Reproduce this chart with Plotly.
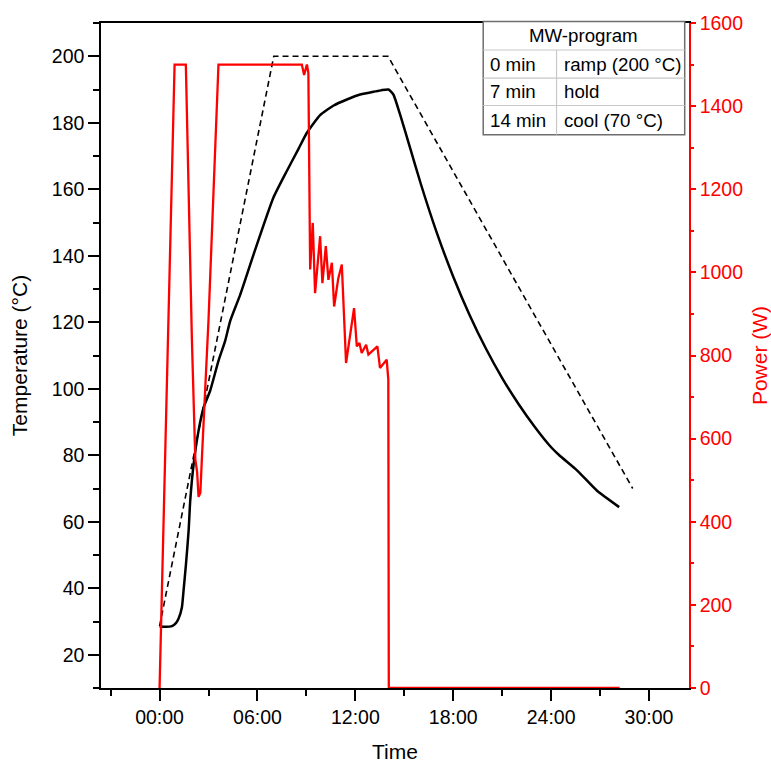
import plotly.graph_objects as go

# ---------------- data (time in minutes) ----------------
temp_time = [0, 0.3, 0.76, 1.0, 1.16, 1.37, 1.47, 1.62, 1.78, 1.88, 2.09, 2.39, 2.70, 3.10,
             3.61, 4.02, 4.33, 4.95, 5.77, 6.98, 7.80, 8.5, 9.03, 9.84, 10.67, 11.48, 12.29,
             13.11, 13.6, 14.03, 14.33, 14.74, 15.35, 16, 17, 18, 19, 20, 21, 22, 23, 24,
             24.5, 25.6, 26.8, 28.17]
temp_vals = [28.6, 28.4, 28.6, 29.5, 30.8, 34.3, 39.3, 47.3, 57.3, 66.4, 77.4, 87.4, 94.4, 99.4,
             108.4, 114.4, 120.4, 128.4, 140.5, 157.5, 165.5, 172.0, 177.0, 182.3, 185.2, 187.0,
             188.5, 189.3, 189.8, 190.0, 188.5, 182.5, 172.5, 161.8, 146.8, 133.7, 122.2, 112.1,
             103.2, 95.4, 88.5, 82.4, 80.0, 75.4, 69.4, 64.4]

prog_time = [0, 7, 14, 29]
prog_vals = [28.6, 200, 200, 70]

power_time = [0, 0.92, 1.61, 1.98, 2.19, 2.30, 2.39, 2.50, 2.59, 3.0, 3.61, 8.72, 8.86, 9.03,
              9.12, 9.23, 9.39, 9.53, 9.84, 9.98, 10.19, 10.35, 10.56, 10.70, 10.95, 11.17,
              11.43, 11.92, 12.09, 12.25, 12.39, 12.66, 12.80, 13.35, 13.51, 13.92, 14.02,
              14.05, 28.2]
power_vals = [0, 1500, 1500, 840, 550, 520, 460, 470, 549, 886, 1500, 1500, 1475, 1500,
              1480, 1007, 1119, 950, 1087, 974, 1063, 982, 1023, 918, 985, 1019,
              782, 914, 822, 830, 806, 826, 802, 822, 770, 790, 742,
              0, 0]

x_tickvals = [0, 6, 12, 18, 24, 30]
x_ticktext = ["00:00", "06:00", "12:00", "18:00", "24:00", "30:00"]

table_header = "MW-program"
table_col1 = ["0 min", "7 min", "14 min"]
table_col2 = ["ramp (200 °C)", "hold", "cool (70 °C)"]

# ---------------- figure ----------------
FONT = "Arial, Liberation Sans, sans-serif"
fig = go.Figure()

fig.add_trace(go.Scatter(x=prog_time, y=prog_vals, mode="lines",
                         line=dict(color="black", width=1.6, dash="6px,4px"),
                         showlegend=False, yaxis="y"))
fig.add_trace(go.Scatter(x=temp_time, y=temp_vals, mode="lines",
                         line=dict(color="black", width=2.5, shape="spline", smoothing=0.5),
                         showlegend=False, yaxis="y"))
fig.add_trace(go.Scatter(x=power_time, y=power_vals, mode="lines",
                         line=dict(color="#ff0000", width=2.3),
                         showlegend=False, yaxis="y2"))

W, H = 771, 763
L, R, T, B = 100.7, 689.3, 23.3, 688.3


def px2paper_x(px):
    return (px - L) / (R - L)


def px2paper_y(py):
    return (B - py) / (B - T)


fig.update_layout(
    template="none",
    width=W, height=H,
    margin=dict(l=L, r=W - R, t=T, b=H - B, pad=0),
    paper_bgcolor="white", plot_bgcolor="white",
    font=dict(family=FONT, size=19.5, color="black"),
    showlegend=False,
    xaxis=dict(
        range=[-3.59, 32.45], showgrid=False, zeroline=False,
        showline=True, linecolor="black", linewidth=1.5, mirror=True,
        tickmode="array", tickvals=x_tickvals, ticktext=x_ticktext,
        ticks="outside", ticklen=11, tickwidth=1.5, tickcolor="black",
        minor=dict(tickmode="linear", tick0=0, dtick=3, ticks="outside",
                   ticklen=6, tickwidth=1.5, tickcolor="black"),
        title=dict(text="Time", font=dict(size=21), standoff=17),
        automargin=False,
    ),
    yaxis=dict(
        range=[10, 210], showgrid=False, zeroline=False,
        showline=True, linecolor="black", linewidth=1.5,
        tickmode="linear", tick0=0, dtick=20,
        ticks="outside", ticklen=11, tickwidth=1.5, tickcolor="black",
        minor=dict(tickmode="linear", tick0=0, dtick=10, ticks="outside",
                   ticklen=6, tickwidth=1.5, tickcolor="black"),
        title=dict(text="Temperature (°C)", font=dict(size=21), standoff=18),
        automargin=False,
    ),
    yaxis2=dict(
        overlaying="y", side="right", anchor="x",
        range=[0, 1600], showgrid=False, zeroline=False,
        showline=True, linecolor="#ff0000", linewidth=1.5,
        tickmode="linear", tick0=0, dtick=200,
        ticks="outside", ticklen=5, tickwidth=1.5, tickcolor="#ff0000",
        tickfont=dict(color="#ff0000"),
        minor=dict(tickmode="linear", tick0=0, dtick=100, ticks="outside",
                   ticklen=3, tickwidth=1.5, tickcolor="#ff0000"),
        title=dict(text="Power (W)", font=dict(size=21, color="#ff0000"), standoff=10),
        automargin=False,
    ),
)

# ---------------- program table ----------------
tx0, tx1 = 483.3, 685.0
ty0, ty1 = 21.8, 135.0
col_div = 556.7
row_lines = [50.3, 78.5, 105.8]
row_centers = [36.0, 64.4, 92.2, 120.4]

shapes = []
shapes.append(dict(type="rect", xref="paper", yref="paper", layer="above",
                   x0=px2paper_x(tx0), x1=px2paper_x(tx1),
                   y0=px2paper_y(ty1), y1=px2paper_y(ty0),
                   fillcolor="white", line=dict(color="#6e6e6e", width=1.5)))
for ry in row_lines:
    shapes.append(dict(type="line", xref="paper", yref="paper", layer="above",
                       x0=px2paper_x(tx0), x1=px2paper_x(tx1),
                       y0=px2paper_y(ry), y1=px2paper_y(ry),
                       line=dict(color="#c8c8c8", width=1.2)))
shapes.append(dict(type="line", xref="paper", yref="paper", layer="above",
                   x0=px2paper_x(col_div), x1=px2paper_x(col_div),
                   y0=px2paper_y(ty1), y1=px2paper_y(row_lines[0]),
                   line=dict(color="#c8c8c8", width=1.2)))
fig.update_layout(shapes=shapes)

annotations = [dict(text=table_header, xref="paper", yref="paper",
                    x=px2paper_x((tx0 + tx1) / 2), y=px2paper_y(row_centers[0]),
                    xanchor="center", yanchor="middle", showarrow=False,
                    font=dict(size=18.7, family=FONT, color="black"))]
for i, (a, b) in enumerate(zip(table_col1, table_col2)):
    cy = px2paper_y(row_centers[i + 1])
    annotations.append(dict(text=a, xref="paper", yref="paper",
                            x=px2paper_x(tx0 + 4.5), y=cy, xanchor="left", yanchor="middle",
                            showarrow=False, font=dict(size=18.7, family=FONT, color="black")))
    annotations.append(dict(text=b, xref="paper", yref="paper",
                            x=px2paper_x(col_div + 5.5), y=cy, xanchor="left", yanchor="middle",
                            showarrow=False, font=dict(size=18.7, family=FONT, color="black")))
fig.update_layout(annotations=annotations)

fig.write_html("out.html", config={"displayModeBar": False},
               post_script="document.body.style.margin='0';document.body.style.overflow='hidden';")
